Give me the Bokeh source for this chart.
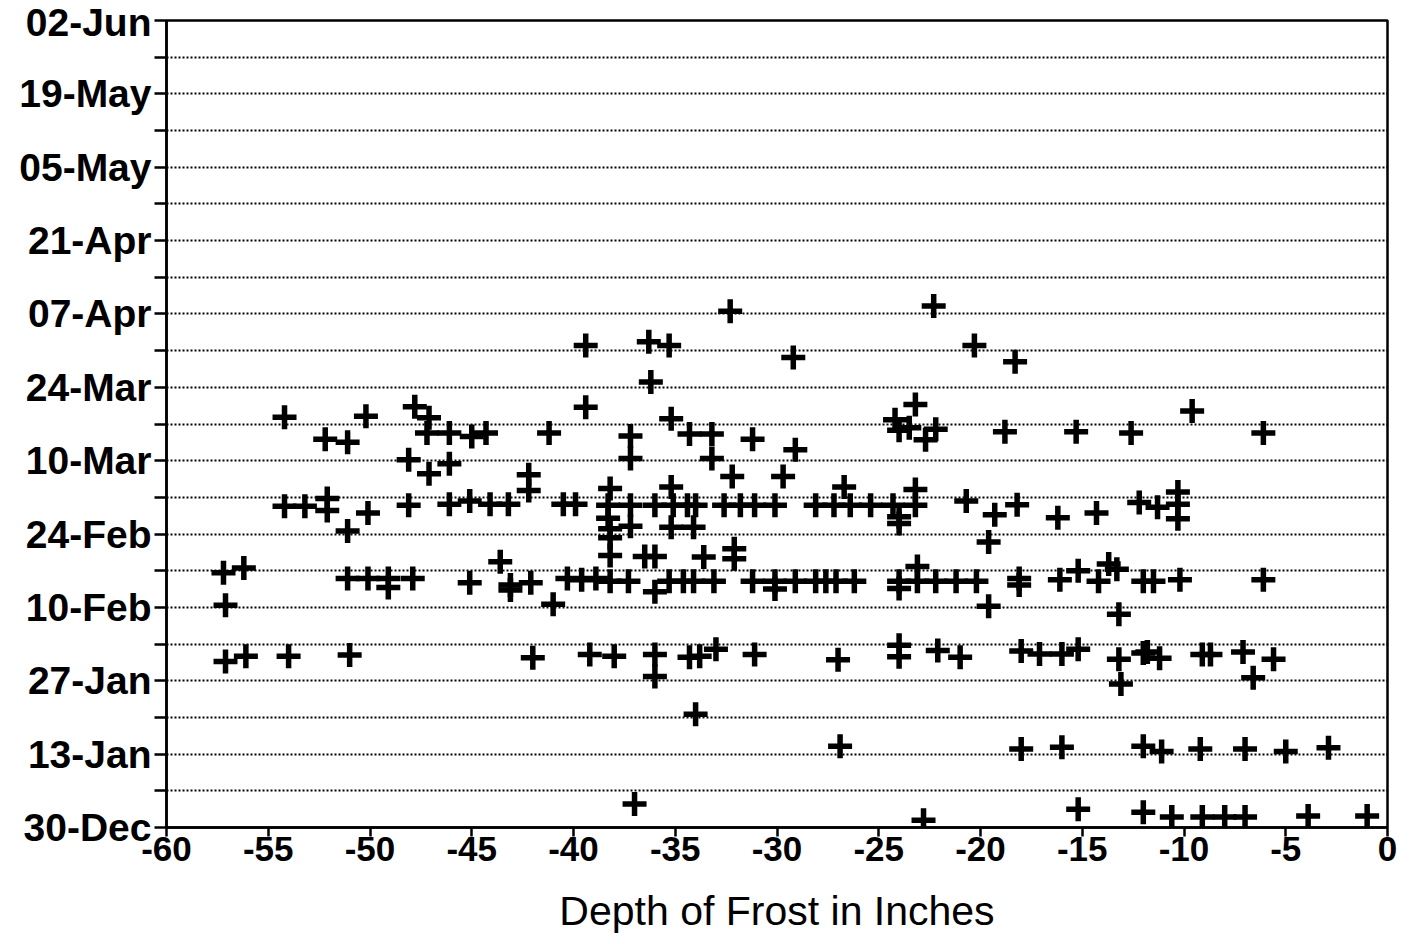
from bokeh.plotting import figure
from bokeh.models import FixedTicker, ColumnDataSource
from bokeh.embed import file_html
from bokeh.resources import INLINE

# Days counted from 30-Dec; ticks every 14 days, grid every 7 days
tick_days = [0, 14, 28, 42, 56, 70, 84, 98, 112, 126, 140, 154]
tick_labels = ["30-Dec", "13-Jan", "27-Jan", "10-Feb", "24-Feb", "10-Mar",
               "24-Mar", "07-Apr", "21-Apr", "05-May", "19-May", "02-Jun"]
minor_days = [7, 21, 35, 49, 63, 77, 91, 105, 119, 133, 147]
x_ticks = [-60, -55, -50, -45, -40, -35, -30, -25, -20, -15, -10, -5, 0]
x_tick_labels = ["-60", "-55", "-50", "-45", "-40", "-35", "-30", "-25",
                 "-20", "-15", "-10", "-5", "0"]

# Depth of frost (inches) and date (days after 30-Dec)
depth = [
    -32.3, -22.3, -39.4, -36.3, -35.3, -29.2, -20.3, -18.3, -36.2, -23.2, -39.4, -9.6,
    -54.2, -50.2, -47.8, -47.1, -52.2, -51.1, -47.2, -46.1, -45.0, -44.3, -41.2,
    -35.2, -37.2, -34.3, -33.2, -31.2, -29.1, -24.2, -24.0, -23.5, -22.2, -22.7,
    -18.8, -15.3, -12.6, -6.1,
    -48.1, -47.1, -46.1, -42.2, -42.2, -37.2, -33.2, -32.2, -29.7,
    -38.2, -35.2, -26.7, -23.2,
    -54.2, -53.2, -52.1, -52.1, -51.1, -50.1, -48.1, -46.1, -45.1, -44.1, -43.2, -40.5, -39.9,
    -38.3, -37.2, -36.0, -35.1, -34.4, -34.0, -32.6, -31.8, -31.1, -30.1, -28.1, -27.2,
    -26.4, -25.4, -24.3, -23.2, -20.7,
    -38.2, -37.2, -38.3, -35.2, -34.1, -24.0, -24.0, -38.2,
    -19.3, -18.2, -16.2, -14.3, -12.2, -11.3, -10.3, -10.3, -10.3, -19.6,
    -38.2, -36.5, -36.0, -33.6, -32.1, -32.1, -43.6,
    -57.2, -56.2, -51.1, -50.1, -49.1, -49.1, -47.9,
    -45.1, -43.1, -43.1, -42.1, -40.3, -39.6, -38.9,
    -38.2, -37.3, -35.3, -34.6, -34.1, -33.1, -31.2, -30.1, -29.1, -28.1, -27.6, -27.1,
    -26.2, -24.0, -23.1, -22.2, -21.2, -20.2,
    -36.0, -30.1, -24.0, -23.1,
    -18.1, -18.1, -16.1, -15.2, -14.2, -13.7, -13.3, -12.0, -11.5, -10.2, -6.1,
    -57.1, -41.0, -19.6, -13.2,
    -57.1, -56.1, -54.0, -51.0, -42.0, -39.2, -38.0, -36.0, -36.0, -34.3, -33.8, -33.0,
    -31.1, -27.0, -24.0, -24.0, -22.1, -21.0,
    -18.0, -17.1, -16.0, -15.2, -13.2, -12.0, -11.8, -11.2, -9.1, -8.7, -7.1, -5.6,
    -13.1, -6.6, -34.0,
    -26.9, -18.0, -16.0, -12.0, -11.1, -9.2, -7.0, -5.0, -2.9,
    -37.0, -22.8, -15.2, -12.0, -10.6, -9.1, -8.0, -7.0, -3.9, -1.0,
]
day = [
    98.5, 99.5, 92.0, 92.7, 92.0, 89.7, 92.0, 88.9, 85.0, 80.7, 80.2, 79.5,
    78.3, 78.5, 80.3, 78.2, 74.1, 73.5, 75.3, 75.3, 74.6, 75.3, 75.3,
    78.0, 74.7, 75.1, 75.1, 74.1, 72.1, 77.8, 75.8, 76.3, 76.0, 74.0,
    75.5, 75.5, 75.3, 75.3,
    70.2, 67.5, 69.4, 67.3, 64.3, 70.4, 70.4, 67.0, 67.0,
    64.7, 65.0, 65.0, 64.5,
    61.3, 61.3, 62.8, 60.5, 56.6, 60.0, 61.5, 61.7, 62.3, 61.7, 61.7, 61.7, 61.7,
    61.5, 61.5, 61.5, 61.5, 61.5, 61.5, 61.5, 61.5, 61.5, 61.5, 61.5, 61.5,
    61.5, 61.5, 61.5, 61.5, 62.3,
    57.0, 57.5, 59.0, 57.3, 57.3, 59.3, 58.0, 55.3,
    59.7, 61.6, 59.1, 60.0, 62.0, 61.1, 64.0, 61.7, 58.9, 54.5,
    51.9, 51.7, 51.7, 51.6, 53.2, 51.3, 50.7,
    48.6, 49.5, 47.5, 47.5, 47.5, 45.8, 47.5,
    46.7, 46.3, 45.3, 46.7, 47.5, 47.3, 47.5,
    47.0, 47.0, 47.0, 47.0, 47.0, 47.0, 47.0, 47.0, 47.0, 47.0, 47.0, 47.0,
    47.0, 47.0, 47.0, 47.0, 47.0, 47.0,
    45.0, 45.5, 45.6, 49.8,
    46.3, 47.5, 47.3, 49.0, 47.0, 50.3, 49.3, 47.0, 47.0, 47.3, 47.3,
    42.4, 42.6, 42.2, 40.7,
    31.7, 32.7, 32.7, 32.9, 32.4, 33.0, 32.7, 33.0, 28.8, 32.5, 32.7, 34.0,
    33.0, 32.0, 34.8, 32.6, 33.8, 32.5,
    33.7, 33.1, 33.1, 34.0, 32.1, 33.3, 33.5, 32.3, 33.0, 33.0, 33.5, 32.1,
    27.4, 28.6, 21.6,
    15.5, 15.0, 15.3, 15.5, 14.5, 15.0, 15.0, 14.5, 15.2,
    4.5, 1.4, 3.5, 2.9, 2.0, 2.0, 2.0, 2.0, 2.2, 2.2,
]

src = ColumnDataSource(dict(depth=depth, day=day))

p = figure(width=1410, height=938, x_range=(-60, 0), y_range=(0, 154),
           output_backend="svg", toolbar_location=None,
           min_border_left=166, min_border_top=20, min_border_right=23,
           min_border_bottom=111, background_fill_color="white",
           border_fill_color="white")

p.scatter("depth", "day", source=src, marker="cross", size=24,
          line_width=5.5, color="black")

FONT = "Liberation Sans"

# Y axis
p.yaxis.ticker = FixedTicker(ticks=tick_days, minor_ticks=minor_days)
p.yaxis.major_label_overrides = {d: l for d, l in zip(tick_days, tick_labels)}
p.yaxis.major_label_text_font = FONT
p.yaxis.major_label_text_font_style = "bold"
p.yaxis.major_label_text_font_size = "39px"
p.yaxis.major_label_text_color = "black"
p.yaxis.major_tick_out = 12
p.yaxis.major_tick_in = 0
p.yaxis.minor_tick_out = 12
p.yaxis.minor_tick_in = 0
p.yaxis.major_tick_line_width = 2.5
p.yaxis.minor_tick_line_width = 2.5
p.yaxis.axis_line_width = 2.5
p.yaxis.major_label_standoff = 3

# X axis
p.xaxis.ticker = FixedTicker(ticks=x_ticks)
p.xaxis.major_label_overrides = {t: l for t, l in zip(x_ticks, x_tick_labels)}
p.xaxis.major_label_text_font = FONT
p.xaxis.major_label_text_font_style = "bold"
p.xaxis.major_label_text_font_size = "35px"
p.xaxis.major_label_text_color = "black"
p.xaxis.major_tick_out = 9
p.xaxis.major_tick_in = 0
p.xaxis.major_tick_line_width = 2.5
p.xaxis.axis_line_width = 2.5
p.xaxis.major_label_standoff = 0
p.xaxis.axis_label = "Depth of Frost in Inches"
p.xaxis.axis_label_text_font = FONT
p.xaxis.axis_label_text_font_style = "normal"
p.xaxis.axis_label_text_font_size = "41px"
p.xaxis.axis_label_text_color = "black"
p.xaxis.axis_label_standoff = 24

# Grid: dotted lines every week
p.xgrid.grid_line_color = None
p.ygrid.grid_line_color = "black"
p.ygrid.grid_line_dash = "2 2"
p.ygrid.grid_line_width = 1.8
p.ygrid.minor_grid_line_color = "black"
p.ygrid.minor_grid_line_dash = "2 2"
p.ygrid.minor_grid_line_width = 1.8

p.outline_line_color = "black"
p.outline_line_width = 2.5

open("out.html", "w").write(file_html(p, INLINE))
